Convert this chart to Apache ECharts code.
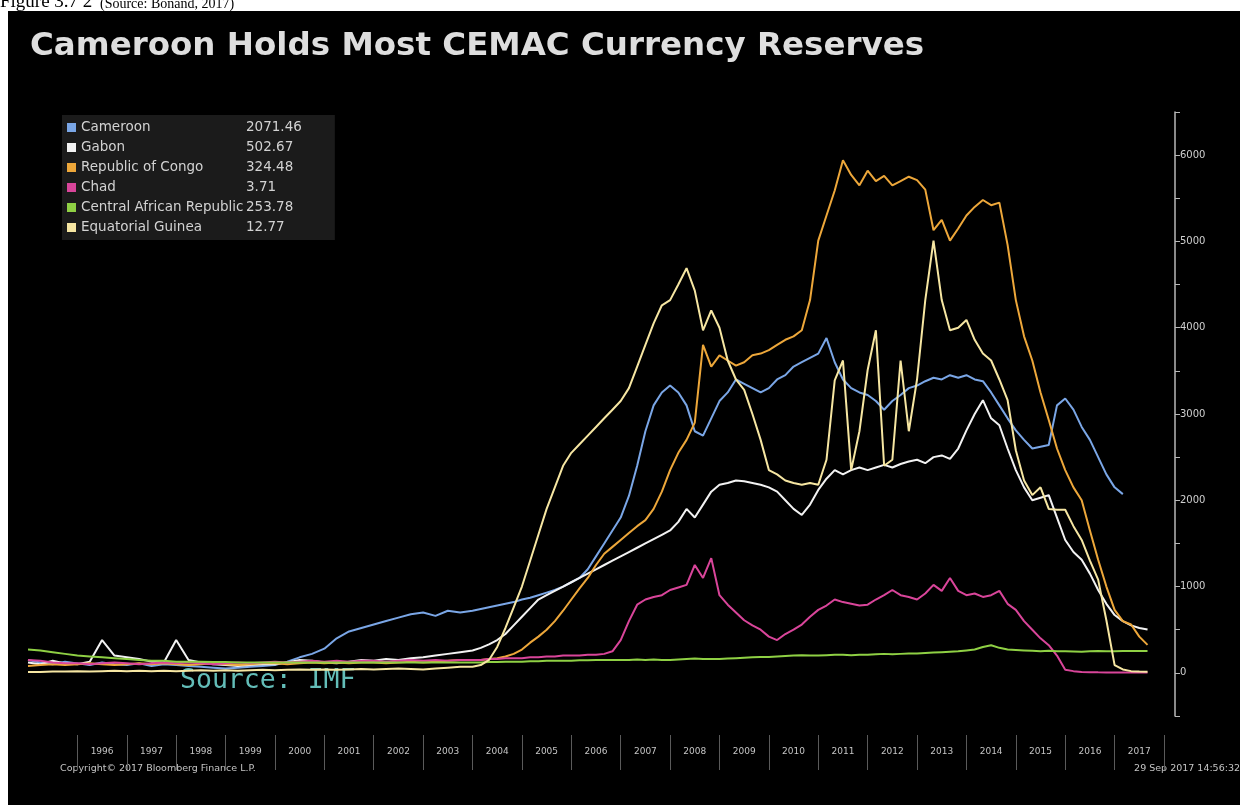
<!DOCTYPE html>
<html><head><meta charset="utf-8">
<script src="https://cdn.jsdelivr.net/npm/echarts@6/dist/echarts.min.js"></script>
<style>html,body{margin:0;padding:0;background:#fff;overflow:hidden}#c{width:1248px;height:805px}</style>
</head><body><div id="c"></div>
<script>
// ---- data (CFA bn) ----
const months = [
 '1995-01','1995-04','1995-07','1995-10','1996-01','1996-04','1996-07','1996-10',
 '1997-01','1997-04','1997-07','1997-10','1998-01','1998-04','1998-07','1998-10',
 '1999-01','1999-04','1999-07','1999-10','2000-01','2000-04','2000-07','2000-10',
 '2001-01','2001-04','2001-07','2001-10','2002-01','2002-04','2002-07','2002-10',
 '2003-01','2003-04','2003-07','2003-10',
 '2004-01','2004-03','2004-05','2004-07','2004-09','2004-11',
 '2005-01','2005-03','2005-05','2005-07','2005-09','2005-11',
 '2006-01','2006-03','2006-05','2006-07','2006-09','2006-11',
 '2007-01','2007-03','2007-05','2007-07','2007-09','2007-11',
 '2008-01','2008-03','2008-05','2008-07','2008-09','2008-11',
 '2009-01','2009-03','2009-05','2009-07','2009-09','2009-11',
 '2010-01','2010-03','2010-05','2010-07','2010-09','2010-11',
 '2011-01','2011-03','2011-05','2011-07','2011-09','2011-11',
 '2012-01','2012-03','2012-05','2012-07','2012-09','2012-11',
 '2013-01','2013-03','2013-05','2013-07','2013-09','2013-11',
 '2014-01','2014-03','2014-05','2014-07','2014-09','2014-11',
 '2015-01','2015-03','2015-05','2015-07','2015-09','2015-11',
 '2016-01','2016-03','2016-05','2016-07','2016-09','2016-11',
 '2017-01','2017-03','2017-05','2017-07','2017-09'
];
const cameroon = [
 150,120,100,130, 110,90,120,100, 90,110,80,100, 90,80,70,60, 50,60,70,80, 90,130,180,220,
 280,400,480,520, 560,600,640,680, 700,660,720,700,
 720,740,760,780,800,820, 850,870,900,930,960,1000, 1050,1100,1200,1350,1500,1650,
 1800,2050,2400,2800,3100,3250, 3330,3250,3100,2800,2750,2950, 3150,3250,3400,3350,3300,3250,
 3300,3400,3450,3550,3600,3650, 3700,3880,3600,3400,3300,3250, 3220,3150,3050,3150,3220,3300,
 3330,3380,3420,3400,3450,3420, 3450,3400,3380,3250,3100,2950, 2810,2700,2600,2620,2640,3100,
 3180,3050,2850,2700,2500,2300, 2150,2071.46,null,null,null
];
const gabon = [
 120,100,140,110, 100,130,380,200, 180,160,130,120, 380,150,120,100, 90,80,90,100, 100,120,150,140,
 120,110,130,150, 140,160,150,170, 180,200,220,240,
 260,290,330,380,450,550, 650,750,850,900,950,1000, 1050,1100,1150,1200,1250,1300,
 1350,1400,1450,1500,1550,1600, 1650,1750,1900,1800,1950,2100, 2180,2200,2230,2220,2200,2180,
 2150,2100,2000,1900,1830,1950, 2120,2250,2350,2300,2350,2380, 2350,2380,2410,2380,2420,2450,
 2470,2430,2500,2520,2480,2600, 2810,3000,3160,2950,2870,2600, 2350,2150,2000,2030,2060,1800,
 1540,1400,1310,1150,960,800, 670,600,550,520,502.67
];
const congo = [
 80,90,100,90, 100,110,100,90, 100,110,100,110, 100,90,100,110, 100,90,100,110, 110,100,110,120,
 110,120,110,120, 120,110,120,130, 120,130,140,150,
 150,150,160,170,190,220, 270,350,420,500,600,720, 850,980,1100,1250,1380,1460,
 1540,1620,1700,1770,1900,2100, 2350,2550,2700,2900,3800,3550, 3680,3620,3560,3600,3680,3700,
 3740,3800,3860,3900,3970,4320, 5010,5300,5590,5940,5770,5650, 5820,5700,5760,5650,5700,5750,
 5710,5600,5130,5250,5010,5150, 5300,5400,5480,5420,5450,4960, 4320,3900,3620,3250,2930,2600,
 2350,2150,2000,1650,1310,1000, 730,600,560,420,324.48
];
const chad = [
 150,140,120,110, 110,100,110,120, 110,100,110,120, 110,120,110,100, 110,120,110,120, 130,120,130,140,
 130,140,130,140, 140,130,140,150, 140,150,140,150,
 150,150,160,160,170,170, 170,180,180,190,190,200, 200,200,210,210,220,250,
 380,600,790,850,880,900, 960,990,1020,1250,1100,1330, 900,790,700,610,550,500,
 420,380,450,500,560,650, 730,780,850,820,800,780, 790,850,900,960,900,880,
 850,920,1020,950,1100,950, 900,920,880,900,950,800, 730,600,500,400,320,200,
 35,20,10,8,6,5, 5,4,4,4,3.71
];
const car = [
 270,260,240,220, 200,190,180,170, 160,150,140,140, 130,130,130,125, 125,120,120,120, 120,120,120,120,
 120,120,120,120, 120,120,120,120, 120,120,120,120,
 120,120,125,125,130,130, 130,135,135,140,140,140, 140,145,145,150,150,150,
 150,150,155,150,155,150, 150,155,160,165,160,160, 160,165,170,175,180,185,
 185,190,195,200,205,200, 200,205,210,210,205,210, 210,215,220,215,220,225,
 225,230,235,240,245,250, 260,270,300,320,290,270, 265,260,255,250,255,250,
 250,248,245,250,252,250, 250,252,253,254,253.78
];
const eqGuinea = [
 10,10,15,15, 20,15,20,25, 20,25,20,25, 20,25,30,25, 30,25,30,35, 30,35,40,35,
 40,35,40,45, 40,45,50,45, 40,50,60,70,
 70,90,150,300,520,760, 1000,1300,1600,1900,2150,2400, 2550,2650,2750,2850,2950,3050,
 3150,3300,3550,3800,4050,4260, 4320,4500,4690,4430,3970,4200, 4000,3620,3400,3280,3000,2700,
 2350,2300,2230,2200,2180,2200, 2180,2470,3390,3620,2350,2800, 3510,3970,2400,2470,3620,2800,
 3400,4320,5010,4320,3970,4000, 4090,3860,3700,3620,3400,3160, 2580,2230,2060,2150,1900,1890,
 1890,1700,1540,1300,1080,610, 90,40,20,15,12.77
];
const seriesNames = ['Cameroon','Gabon','Republic of Congo','Chad','Central African Republic','Equatorial Guinea'];
const lastValues = ['2071.46','502.67','324.48','3.71','253.78','12.77'];
const seriesColors = ['#7aa6e6','#f2f2f2','#eda73a','#d9459a','#8fd044','#f6e6a2'];
const yearLabels = ['1995','1996','1997','1998','1999','2000','2001','2002','2003','2004','2005','2006',
 '2007','2008','2009','2010','2011','2012','2013','2014','2015','2016','2017'];

// ---- build ----
const toYear = s => { const p = s.split('-'); return +p[0] + (+p[1] - 1) / 12; };
const xs = months.map(toYear);
const allValues = [cameroon, gabon, congo, chad, car, eqGuinea];

const chart = echarts.init(document.getElementById('c'), null, {renderer: 'canvas'});
chart.setOption({
  backgroundColor: '#ffffff',
  animation: false,
  graphic: [
    {type: 'rect', z: -100, silent: true, shape: {x: 8, y: 11, width: 1232, height: 794}, style: {fill: '#000'}},
    {type: 'text', z: -200, style: {text: 'Figure 3.7 2', x: 0, y: 12, verticalAlign: 'bottom', font: '19px "Liberation Serif"', fill: '#000'}},
    {type: 'text', z: -200, style: {text: '(Source: Bonand, 2017)', x: 100, y: 11, verticalAlign: 'bottom', font: '14px "Liberation Serif"', fill: '#000'}},
    {type: 'text', style: {text: 'Cameroon Holds Most CEMAC Currency Reserves', x: 30, y: 47, verticalAlign: 'middle', font: 'bold 32.5px "DejaVu Sans"', fill: '#dedede'}},
    {type: 'text', style: {text: 'Source: IMF', x: 180, y: 681, verticalAlign: 'middle', font: '26.5px "DejaVu Sans Mono"', fill: '#63bdb8'}},
    {type: 'text', style: {text: 'Copyright\u00a9 2017 Bloomberg Finance L.P.', x: 60, y: 769, verticalAlign: 'middle', font: '9.5px "DejaVu Sans"', fill: '#c4c4c4'}},
    {type: 'text', style: {text: '29 Sep 2017 14:56:32', x: 1240, y: 769, align: 'right', verticalAlign: 'middle', font: '9.5px "DejaVu Sans"', fill: '#c4c4c4'}}
  ],
  legend: {
    orient: 'vertical', left: 62, top: 115,
    backgroundColor: '#1b1b1b', padding: [5, 33, 5, 5],
    itemWidth: 9, itemHeight: 9, itemGap: 5, icon: 'rect',
    data: seriesNames,
    textStyle: {color: '#d2d2d2', fontFamily: 'DejaVu Sans', fontSize: 13.5, lineHeight: 15,
      rich: {n: {width: 165, color: '#d2d2d2', fontSize: 13.5}, v: {color: '#d2d2d2', fontSize: 13.5}}},
    formatter: name => '{n|' + name + '}{v|' + lastValues[seriesNames.indexOf(name)] + '}'
  },
  grid: [
    {left: 28, right: 84, top: 112, height: 604},
    {left: 28, right: 84, top: 735, height: 35}
  ],
  xAxis: [
    {type: 'value', gridIndex: 0, min: 1995, max: 2018, show: false},
    {type: 'category', gridIndex: 1, data: yearLabels, boundaryGap: true, position: 'bottom',
     axisLine: {show: false}, axisTick: {show: false},
     splitLine: {show: true, interval: (i) => i !== 0, lineStyle: {color: '#5a5a5a', width: 1}},
     axisLabel: {inside: true, interval: 0, margin: 18, verticalAlign: 'middle', color: '#c4c4c4', fontSize: 9,
       fontFamily: 'DejaVu Sans', formatter: v => v === '1995' ? '' : v}}
  ],
  yAxis: [
    {type: 'value', gridIndex: 0, position: 'right', offset: 11, min: -500, max: 6500, interval: 500,
     axisLine: {show: true, lineStyle: {color: '#b8b8b8', width: 1.5}},
     axisTick: {show: true, length: 5, lineStyle: {color: '#b8b8b8'}},
     splitLine: {show: false},
     axisLabel: {color: '#cfcfcf', fontSize: 10, margin: 5, fontFamily: 'DejaVu Sans',
       formatter: v => (v >= 0 && v <= 6000 && v % 1000 === 0) ? String(v) : ''}},
    {type: 'value', gridIndex: 1, show: false}
  ],
  series: seriesNames.map((n, k) => ({
    name: n, type: 'line', xAxisIndex: 0, yAxisIndex: 0, showSymbol: false, connectNulls: false,
    color: seriesColors[k],
    lineStyle: {width: 2, color: seriesColors[k]},
    data: xs.map((x, i) => [x, allValues[k][i]])
  }))
});
</script></body></html>
